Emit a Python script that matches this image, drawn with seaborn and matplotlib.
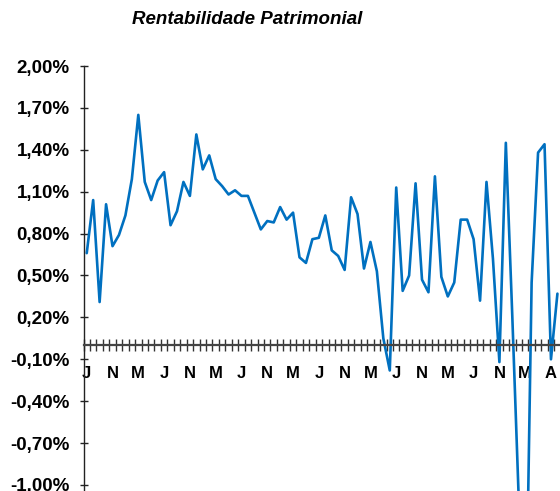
import matplotlib
matplotlib.use("Agg")
import matplotlib.pyplot as plt
import matplotlib.ticker as mticker
import seaborn as sns
import pandas as pd
import numpy as np

# Monthly return on equity (%)
values = [0.66, 1.04, 0.31, 1.01, 0.71, 0.79, 0.93, 1.19, 1.65, 1.17,
          1.04, 1.18, 1.24, 0.86, 0.96, 1.17, 1.07, 1.51, 1.26, 1.36,
          1.19, 1.14, 1.08, 1.11, 1.07, 1.07, 0.95, 0.83, 0.89, 0.88,
          0.99, 0.90, 0.95, 0.63, 0.59, 0.76, 0.77, 0.93, 0.68, 0.64,
          0.54, 1.06, 0.94, 0.55, 0.74, 0.53, 0.05, -0.18, 1.13, 0.39,
          0.50, 1.16, 0.47, 0.38, 1.21, 0.49, 0.35, 0.45, 0.90, 0.90,
          0.76, 0.32, 1.17, 0.62, -0.12, 1.45, 0.21, -1.10, -2.40, 0.45,
          1.38, 1.44, -0.10, 0.37]
month_labels = ["J", "N", "M", "J", "N", "M", "J", "N", "M", "J",
                "N", "M", "J", "N", "M", "J", "N", "M", "A"]
y_ticks = [-1.00, -0.70, -0.40, -0.10, 0.20, 0.50, 0.80, 1.10, 1.40, 1.70, 2.00]
title = "Rentabilidade Patrimonial"

df = pd.DataFrame({"idx": np.arange(len(values)), "valor": values})

sns.set_style("white")
plt.rcParams["font.family"] = ["Liberation Sans", "DejaVu Sans"]
plt.rcParams["text.color"] = "black"
plt.rcParams["xtick.color"] = "black"
plt.rcParams["ytick.color"] = "black"

fig = plt.figure(figsize=(5.6, 4.91), dpi=100)
ax = fig.add_axes([83.5 / 560, 0.0, 1 - 83.5 / 560, 425 / 491])

sns.lineplot(data=df, x="idx", y="valor", ax=ax, color="#0070C0",
             linewidth=1.9, clip_on=True)

ax.set_xlim(-0.5, 73.4)
ax.set_ylim(-1.043, 2.00)

for s in ["top", "right"]:
    ax.spines[s].set_visible(False)
ax.spines["bottom"].set_position(("data", 0))
ax.spines["bottom"].set_color("#444444")
ax.spines["bottom"].set_linewidth(1.6)
ax.spines["left"].set_color("#222222")
ax.spines["left"].set_linewidth(1.0)

ax.set_yticks(y_ticks)
ax.yaxis.set_major_formatter(mticker.FuncFormatter(
    lambda v, p: f"{v:.2f}%".replace(".", ",")))
ax.tick_params(axis="y", which="major", left=True, direction="inout",
               length=6, width=1, color="#222222", pad=7,
               labelsize=13.5, labelcolor="black")
for lab in ax.get_yticklabels():
    lab.set_fontweight("bold")

label_pos = np.arange(0, 4 * len(month_labels), 4)
ax.set_xticks(label_pos)
ax.set_xticklabels(month_labels, fontweight="bold", fontsize=12)
ax.set_xticks(np.arange(-0.5, 73.5, 1), minor=True)
ax.tick_params(axis="x", which="major", bottom=True, length=0, pad=15,
               labelcolor="black")
ax.tick_params(axis="x", which="minor", bottom=True, direction="inout",
               length=8, width=1, color="#333333")

ax.set_xlabel("")
ax.set_ylabel("")
ax.grid(False)

fig.text(247 / 560, 1 - 20 / 491, title, ha="center", va="center",
         fontsize=13.5, fontweight="bold", fontstyle="italic", color="black")

fig.savefig("out.png", dpi=100)
